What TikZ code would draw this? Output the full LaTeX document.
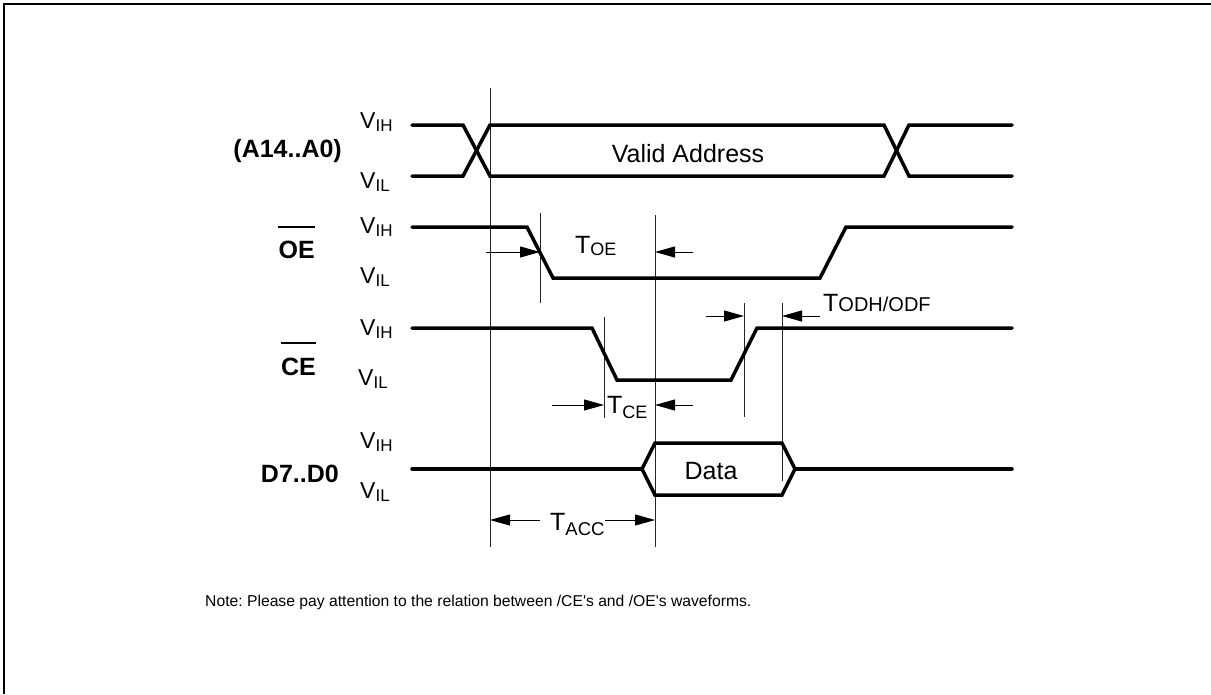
\documentclass[tikz,border=0pt]{standalone}
\usepackage{fontspec}
\setmainfont{Liberation Sans}
\usetikzlibrary{arrows.meta}
\newcommand\mainsz{\fontsize{25}{29}\selectfont}
\newcommand\vsz{\fontsize{23}{27}\selectfont}
\newcommand\lvl[3]{{\vsz #1}\raisebox{-#3pt}{\fontsize{17}{19}\selectfont #2}}
\newcommand\tlab[4]{{\mainsz #1}\raisebox{-#3pt}{\fontsize{#4}{#4}\selectfont #2}}
\tikzset{
  wave/.style={line width=3.5pt, line join=miter, line cap=round},
  guide/.style={line width=1pt, draw=black!85},
  dim/.style={line width=1pt, -{Triangle[length=20pt,width=11pt]}},
  lab/.style={inner sep=0pt, anchor=base west},
  sig/.style={inner sep=0pt, anchor=base east, font=\mainsz\bfseries},
  frame/.style={line width=2pt}
}
\begin{document}
\begin{tikzpicture}[x=1pt,y=-1pt]
\useasboundingbox (0,0) rectangle (1211,694);
% frame
\coordinate (fbl) at (4,694);
\coordinate (ftl) at (4,4);
\coordinate (ftr) at (1211,4);
\draw[frame] (fbl) -- (ftl) -- (ftr);

% guide lines
\coordinate (g1t) at (490,88);  \coordinate (g1b) at (490,547);
\coordinate (g2t) at (540,213); \coordinate (g2b) at (540,303);
\coordinate (g3t) at (655,215); \coordinate (g3b) at (655,547);
\coordinate (g4t) at (604,317); \coordinate (g4b) at (604,418);
\coordinate (g5t) at (744,303); \coordinate (g5b) at (744,417);
\coordinate (g6t) at (782,303); \coordinate (g6b) at (782,481);
\foreach \g in {1,...,6} \draw[guide] (g\g t) -- (g\g b);

% address waveform
\draw[wave] (412,125) -- (463,125) -- (490,176) -- (884,176) -- (909,125) -- (1012,125);
\draw[wave] (412,176) -- (463,176) -- (490,125) -- (884,125) -- (909,176) -- (1012,176);
% OE waveform
\draw[wave] (412,227) -- (527,227) -- (553,278) -- (820,278) -- (846,227) -- (1012,227);
% CE waveform
\draw[wave] (412,328) -- (592,328) -- (617,380) -- (731,380) -- (757,328) -- (1012,328);
% data waveform
\draw[wave] (412,469) -- (642,469);
\draw[wave] (642,469) -- (655,443) -- (782,443) -- (795,469) -- (782,495) -- (655,495) -- cycle;
\draw[wave] (795,469) -- (1012,469);

% level labels
\node[lab] (vih1) at (360,128) {\lvl{V}{IH}{3}};
\node[lab] (vil1) at (360,188) {\lvl{V}{IL}{3}};
\node[lab] (vih2) at (360,233) {\lvl{V}{IH}{3}};
\node[lab] (vil2) at (360,283) {\lvl{V}{IL}{3}};
\node[lab] (vih3) at (360,335) {\lvl{V}{IH}{3}};
\node[lab] (vil3) at (358,385) {\lvl{V}{IL}{3}};
\node[lab] (vih4) at (360,448) {\lvl{V}{IH}{3}};
\node[lab] (vil4) at (360,498) {\lvl{V}{IL}{3}};

% signal names
\node[sig] (sa) at (342,157) {(A14..A0)};
\node[sig] (soe) at (315,258) {OE};
\node[sig] (sce) at (316,375) {CE};
\node[sig] (sd) at (339,482) {D7..D0};
\draw[line width=1.5pt] (soe.north west |- 0,227) -- (soe.north east |- 0,227);
\draw[line width=1.5pt] (sce.north west |- 0,343) -- (sce.north east |- 0,343);

% inner texts
\node[inner sep=0pt, anchor=base, font=\mainsz] (va) at (688,162) {Valid Address};
\node[inner sep=0pt, anchor=base, font=\mainsz] (dt) at (711,479) {Data};

% timing labels
\node[lab] (toe) at (575,253) {\tlab{T}{OE}{2}{18}};
\node[lab] (tce) at (607,413) {\tlab{T}{CE}{5}{18}};
\node[lab] (tacc) at (550,530) {\tlab{T}{ACC}{5}{18.5}};
\node[lab] (todh) at (823,311) {\tlab{T}{ODH/ODF}{0}{20}};

% dimension arrows
\coordinate (a1s) at (486,252); \coordinate (a1e) at (540,252);
\coordinate (a2s) at (693,252); \coordinate (a2e) at (655,252);
\coordinate (a3s) at (552,405); \coordinate (a3e) at (604,405);
\coordinate (a4s) at (693,405); \coordinate (a4e) at (655,405);
\coordinate (a5s) at (706,316); \coordinate (a5e) at (744,316);
\coordinate (a6s) at (820,316); \coordinate (a6e) at (782,316);
\coordinate (a7s) at (540,520); \coordinate (a7e) at (490,520);
\coordinate (a8s) at (605,520); \coordinate (a8e) at (655,520);
\foreach \a in {1,...,8} \draw[dim] (a\a s) -- (a\a e);

% note
\node[lab, font=\fontsize{15.7}{19}\selectfont] (note) at (205,606) {\frenchspacing Note: Please pay attention to the relation between /CE\textquotesingle s and /OE\textquotesingle s waveforms.};
\end{tikzpicture}
\end{document}
